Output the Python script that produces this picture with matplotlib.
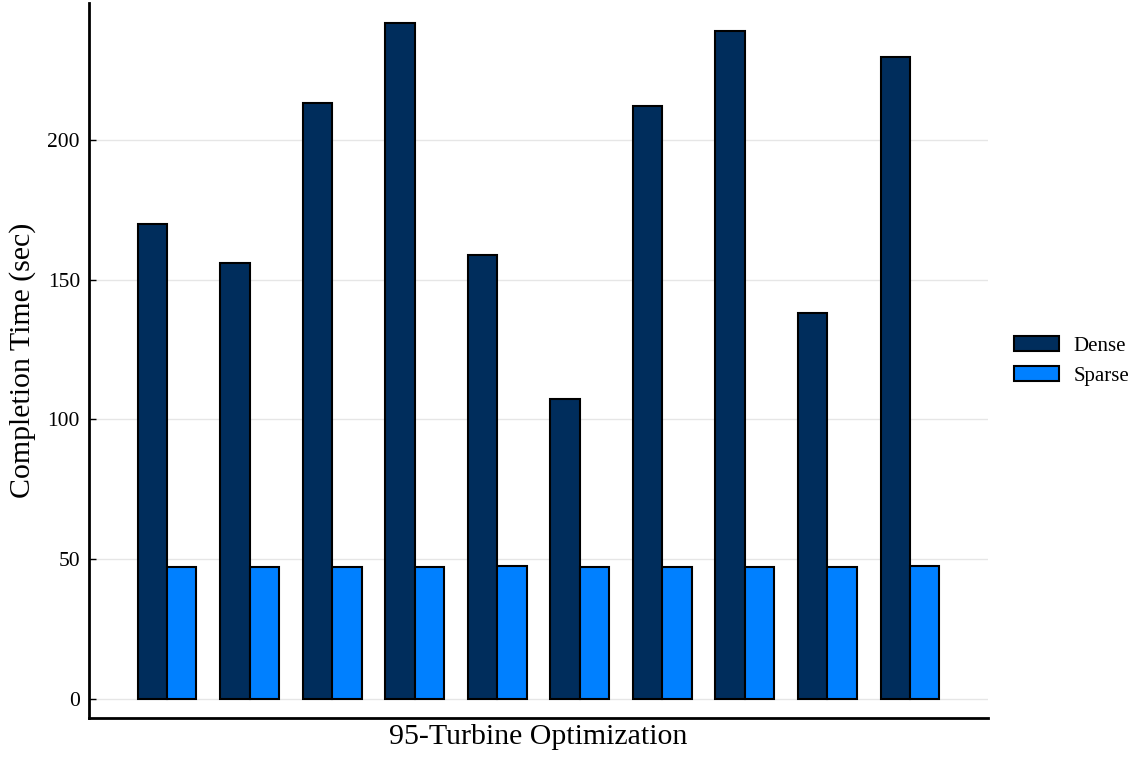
import matplotlib
matplotlib.use("Agg")
import matplotlib.pyplot as plt
import numpy as np
from matplotlib.patches import Patch

runs = list(range(1, 11))
dense = [170.0, 156.0, 213.2, 241.9, 158.9, 107.3, 212.2, 239.0, 138.1, 229.7]
sparse = [47.3, 47.4, 47.2, 47.4, 47.6, 47.3, 47.4, 47.3, 47.2, 47.5]
series_names = ["Dense", "Sparse"]
colors = ["#002D5C", "#0080FF"]
yticks = [0, 50, 100, 150, 200]

plt.rcParams['font.family'] = ['Liberation Serif', 'DejaVu Serif']

fig = plt.figure(figsize=(11.35, 7.59), dpi=100)
ax = fig.add_axes([89/1135, 41/759, (988-89)/1135, (718-3)/759])

x = np.array(runs, dtype=float)
w = 0.357
ax.bar(x - w/2, dense, width=w, color=colors[0], edgecolor='black', linewidth=1.5, zorder=3)
ax.bar(x + w/2, sparse, width=w, color=colors[1], edgecolor='black', linewidth=1.5, zorder=3)

ax.set_xlim(0.055, 10.945)
ax.set_ylim(-6.8, 249)
ax.set_yticks(yticks)
ax.set_xticks([])
ax.grid(axis='y', color='#e6e6e6', linewidth=1.0, zorder=0)
ax.tick_params(axis='y', direction='in', length=5, width=1, labelsize=15.5, pad=6.5)
for s in ['top', 'right']:
    ax.spines[s].set_visible(False)
for s in ['left', 'bottom']:
    ax.spines[s].set_linewidth(2.0)

ax.set_ylabel("Completion Time (sec)", fontsize=21.5, labelpad=8)
ax.set_xlabel("95-Turbine Optimization", fontsize=21.5, labelpad=4)

handles = [Patch(facecolor=c, edgecolor='black', linewidth=1.5, label=n) for c, n in zip(colors, series_names)]
fig.legend(handles=handles, loc='center left', bbox_to_anchor=(1014/1135, 1 - 361/759),
           frameon=False, fontsize=15, handlelength=2.15, handleheight=0.72,
           handletextpad=0.7, labelspacing=0.5, borderpad=0, borderaxespad=0)

fig.savefig("out.png", dpi=100)
